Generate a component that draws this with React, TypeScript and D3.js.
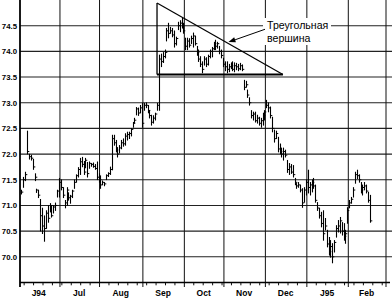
import React from 'react';
import * as d3 from 'd3';

// ---- data (daily high / low / close, trading days from 2 Jun 1994) ----
const highs: number[] = [
  // Jun 94
  71.30, 71.55, 71.65, 72.45, 72.00, 71.98, 71.90, 71.62, 71.32, 71.30, 71.12, 70.95, 70.80, 70.90, 71.00, 71.04, 71.00, 71.00, 71.05, 71.30, 71.53, 71.50,
  // Jul
  71.35, 71.10, 71.35, 71.25, 71.20, 71.30, 71.50, 71.60, 71.74, 71.92, 71.94, 71.86, 71.92, 71.84, 71.85, 71.82, 71.83, 71.80, 71.85, 71.62, 71.58,
  // Aug
  71.48, 71.45, 71.60, 71.64, 71.75, 72.37, 72.37, 72.27, 72.13, 72.17, 72.27, 72.30, 72.40, 72.43, 72.43, 72.50, 72.62, 72.70, 72.91, 72.90, 72.95, 72.99, 72.99,
  // Sep
  73.00, 72.95, 72.85, 72.76, 72.75, 72.80, 72.99, 73.93, 73.95, 73.98, 74.03, 74.45, 74.55, 74.47, 74.45, 74.40, 74.28, 74.57, 74.60, 74.65, 74.55, 74.26,
  // Oct
  74.26, 74.25, 74.30, 74.36, 74.30, 74.10, 74.03, 73.90, 73.80, 73.90, 73.88, 73.93, 74.03, 74.08, 74.18, 74.22, 74.18, 74.10, 74.03, 73.87, 73.80,
  // Nov
  73.80, 73.75, 73.78, 73.80, 73.78, 73.77, 73.75, 73.77, 73.74, 73.44, 73.42, 73.25, 73.10, 72.85, 72.82, 72.82, 72.76, 72.72, 72.70, 72.80, 72.85, 73.05,
  // Dec
  73.00, 72.92, 72.72, 72.47, 72.45, 72.33, 72.20, 72.12, 72.12, 72.08, 71.88, 71.82, 71.80, 71.78, 71.53, 71.43, 71.45, 71.40, 71.33, 71.35, 71.50, 71.69,
  // Jan 95
  71.45, 71.50, 71.53, 71.40, 71.06, 70.95, 70.87, 70.90, 70.75, 70.52, 70.38, 70.32, 70.26, 70.32, 70.61, 70.71, 70.77, 70.67, 70.65, 70.52, 70.96, 71.10,
  // Feb
  71.16, 71.35, 71.65, 71.69, 71.60, 71.45, 71.40, 71.45, 71.40, 71.26, 71.20,
];
const lows: number[] = [
  71.22, 71.35, 71.48, 72.00, 71.90, 71.88, 71.70, 71.48, 71.25, 71.15, 70.50, 70.45, 70.30, 70.55, 70.67, 70.87, 70.77, 70.85, 70.90, 71.16, 71.16, 71.30,
  71.15, 70.95, 71.00, 71.10, 71.04, 71.15, 71.33, 71.45, 71.55, 71.60, 71.75, 71.60, 71.73, 71.55, 71.72, 71.76, 71.74, 71.70, 71.50, 71.45, 71.33,
  71.40, 71.38, 71.50, 71.56, 71.60, 71.69, 72.17, 72.04, 71.94, 72.02, 72.10, 72.15, 72.17, 72.27, 72.30, 72.35, 72.52, 72.60, 72.76, 72.75, 72.80, 72.52, 72.85,
  72.90, 72.80, 72.70, 72.56, 72.60, 72.66, 72.85, 72.85, 73.70, 73.78, 73.87, 74.20, 74.26, 74.35, 74.28, 74.08, 74.12, 74.42, 74.38, 74.45, 74.35, 74.03,
  74.03, 74.08, 74.15, 74.08, 74.12, 73.92, 73.80, 73.70, 73.58, 73.73, 73.70, 73.73, 73.87, 73.89, 74.03, 74.03, 74.06, 73.95, 73.87, 73.70, 73.62,
  73.58, 73.60, 73.66, 73.62, 73.60, 73.64, 73.62, 73.64, 73.62, 73.25, 73.30, 73.10, 72.95, 72.70, 72.66, 72.62, 72.60, 72.56, 72.52, 72.56, 72.66, 72.90,
  72.82, 72.70, 72.43, 72.23, 72.30, 72.04, 72.00, 71.94, 71.88, 71.94, 71.64, 71.60, 71.62, 71.55, 71.40, 71.33, 71.35, 71.26, 70.96, 71.06, 71.20, 71.24,
  71.20, 71.26, 71.33, 71.06, 70.90, 70.75, 70.58, 70.32, 70.52, 70.19, 70.03, 69.99, 69.88, 70.09, 70.38, 70.48, 70.46, 70.42, 70.32, 70.26, 70.65, 70.95,
  71.04, 71.16, 71.43, 71.52, 71.45, 71.24, 71.20, 71.30, 71.24, 71.06, 70.67,
];
const closes: number[] = [
  71.26, 71.50, 71.60, 72.05, 71.95, 71.92, 71.75, 71.55, 71.30, 71.20, 70.80, 70.60, 70.55, 70.85, 70.75, 71.00, 70.80, 70.97, 71.00, 71.28, 71.45, 71.35,
  71.20, 71.05, 71.30, 71.15, 71.18, 71.28, 71.45, 71.58, 71.70, 71.85, 71.80, 71.65, 71.88, 71.62, 71.82, 71.80, 71.76, 71.72, 71.55, 71.50, 71.40,
  71.45, 71.42, 71.58, 71.62, 71.70, 72.30, 72.22, 72.08, 72.00, 72.12, 72.22, 72.20, 72.35, 72.38, 72.40, 72.48, 72.60, 72.66, 72.88, 72.80, 72.90, 72.60, 72.95,
  72.95, 72.85, 72.75, 72.62, 72.70, 72.78, 72.95, 73.85, 73.80, 73.90, 73.98, 74.40, 74.35, 74.40, 74.32, 74.15, 74.25, 74.50, 74.55, 74.50, 74.40, 74.10,
  74.20, 74.12, 74.25, 74.30, 74.15, 73.98, 73.85, 73.75, 73.65, 73.85, 73.75, 73.90, 74.00, 74.05, 74.15, 74.10, 74.15, 74.00, 73.92, 73.75, 73.70,
  73.65, 73.70, 73.72, 73.65, 73.72, 73.70, 73.66, 73.72, 73.65, 73.30, 73.35, 73.15, 73.00, 72.75, 72.78, 72.65, 72.70, 72.60, 72.65, 72.75, 72.82, 72.95,
  72.90, 72.75, 72.50, 72.30, 72.40, 72.10, 72.05, 72.00, 72.05, 71.98, 71.70, 71.75, 71.65, 71.60, 71.45, 71.38, 71.40, 71.30, 71.05, 71.30, 71.45, 71.35,
  71.40, 71.45, 71.38, 71.10, 70.95, 70.80, 70.65, 70.45, 70.60, 70.25, 70.10, 70.20, 70.00, 70.28, 70.55, 70.60, 70.70, 70.50, 70.40, 70.45, 70.90, 71.05,
  71.12, 71.30, 71.60, 71.58, 71.50, 71.30, 71.35, 71.38, 71.28, 71.10, 70.70,
];

const yTicks: number[] = [70.0, 70.5, 71.0, 71.5, 72.0, 72.5, 73.0, 73.5, 74.0, 74.5];
const monthLabels: string[] = ['J94', 'Jul', 'Aug', 'Sep', 'Oct', 'Nov', 'Dec', 'J95', 'Feb'];
const labelLines: string[] = ['Треугольная', 'вершина'];

// pattern annotation (in trading-day / price units)
const triangleLeftDay = 73.5;
const triangleRightDay = 140.3;
const triangleApexPrice = 74.94;
const triangleBasePrice = 73.55;
const arrowFrom = { day: 130.8, price: 74.43 };
const arrowTo = { day: 111.4, price: 74.18 };

const calendarStart = new Date(1994, 5, 1);
const calendarEnd = new Date(1995, 2, 1);
const firstBarDay = 1;

const W = 392;
const H = 303;

export default function App() {
  // trading-day calendar (weekdays)
  const days = d3.timeDay.range(calendarStart, calendarEnd).filter((d) => d.getDay() !== 0 && d.getDay() !== 6);
  const monthStarts: number[] = [];
  const mondays: number[] = [];
  days.forEach((d, i) => {
    if (i === 0 || d.getMonth() !== days[i - 1].getMonth()) monthStarts.push(i);
    else if (d.getDay() === 1) mondays.push(i);
  });
  monthStarts.push(days.length);

  const x = d3.scaleLinear().domain([0, days.length]).range([18.5, 386]);
  const y = d3.scaleLinear().domain([69.5, 75]).range([282.5, 0]);

  const axisY = y(69.5);
  const leftX = 20;
  const rightX = 392;
  const font = '"Liberation Sans", Arial, sans-serif';

  const tx1 = x(triangleLeftDay);
  const tx2 = x(triangleRightDay);
  const tyA = y(triangleApexPrice);
  const tyB = y(triangleBasePrice);

  const ax1 = x(arrowFrom.day), ay1 = y(arrowFrom.price);
  const ax2 = x(arrowTo.day), ay2 = y(arrowTo.price);
  const ang = Math.atan2(ay2 - ay1, ax2 - ax1);
  const hl = 7, hw = 2.6;
  const bx = ax2 - hl * Math.cos(ang), by = ay2 - hl * Math.sin(ang);
  const head = [
    [ax2, ay2],
    [bx + hw * Math.sin(ang), by - hw * Math.cos(ang)],
    [bx - hw * Math.sin(ang), by + hw * Math.cos(ang)],
  ];

  return (
    <div style={{ position: 'absolute', left: 0, top: 0 }}>
      <svg width={W} height={H} viewBox={`0 0 ${W} ${H}`} style={{ display: 'block', background: '#fff' }}>
        {/* horizontal grid */}
        {yTicks.map((t) => (
          <line key={'h' + t} x1={leftX} x2={rightX} y1={y(t)} y2={y(t)} stroke="#222" strokeWidth={1.1} />
        ))}
        {/* vertical month grid */}
        {monthStarts.slice(1).map((m) => (
          <line key={'v' + m} x1={x(m)} x2={x(m)} y1={0} y2={axisY + 4.5} stroke="#111" strokeWidth={1} />
        ))}
        {/* weekly minor ticks */}
        {mondays.map((m) => (
          <line key={'w' + m} x1={x(m)} x2={x(m)} y1={axisY} y2={axisY + 2.8} stroke="#111" strokeWidth={1} />
        ))}
        {/* axes */}
        <line x1={leftX} x2={leftX} y1={0} y2={axisY + 4.5} stroke="#000" strokeWidth={1.8} />
        <line x1={leftX} x2={rightX - 2} y1={axisY} y2={axisY} stroke="#000" strokeWidth={1.4} />

        {/* y labels */}
        {yTicks.map((t) => (
          <text key={'yl' + t} x={17} y={y(t) + 3} textAnchor="end" fontFamily={font} fontWeight="bold" fontSize={7.8} fill="#000">
            {t.toFixed(1)}
          </text>
        ))}
        {/* month labels */}
        {monthLabels.map((lab, i) => (
          <text key={'ml' + i} x={(x(monthStarts[i]) + x(monthStarts[i + 1])) / 2 - 0.5} y={axisY + 13} textAnchor="middle"
            fontFamily={font} fontWeight="bold" fontSize={8.5} fill="#000">
            {lab}
          </text>
        ))}

        {/* HLC bars */}
        {highs.map((h, k) => {
          const cx = Math.round(x(k + firstBarDay + 0.5)) + 0.5;
          const yh = y(h);
          const yl = y(lows[k]);
          const yc = y(closes[k]);
          return (
            <g key={'b' + k}>
              <line x1={cx} x2={cx} y1={yh - 0.3} y2={yl + 0.3} stroke="#000" strokeWidth={1.1} />
              <line x1={cx} x2={cx + 1.8} y1={yc} y2={yc} stroke="#000" strokeWidth={1} />
            </g>
          );
        })}

        {/* triangle */}
        <line x1={tx1} x2={tx1} y1={tyA} y2={tyB} stroke="#000" strokeWidth={1.3} />
        <line x1={tx1} x2={tx2} y1={tyA} y2={tyB} stroke="#000" strokeWidth={1.2} />
        <line x1={tx1} x2={tx2} y1={tyB} y2={tyB} stroke="#000" strokeWidth={2.2} />

        {/* label */}
        <rect x={263} y={18} width={68} height={27} fill="#fff" />
        <text x={267} y={29} fontFamily={font} fontSize={10.6} fill="#000">{labelLines[0]}</text>
        <text x={267} y={42} fontFamily={font} fontSize={10.6} fill="#000">{labelLines[1]}</text>
        <line x1={ax1} y1={ay1} x2={bx} y2={by} stroke="#000" strokeWidth={1} />
        <polygon points={head.map((p) => p.join(',')).join(' ')} fill="#000" />
      </svg>
    </div>
  );
}
